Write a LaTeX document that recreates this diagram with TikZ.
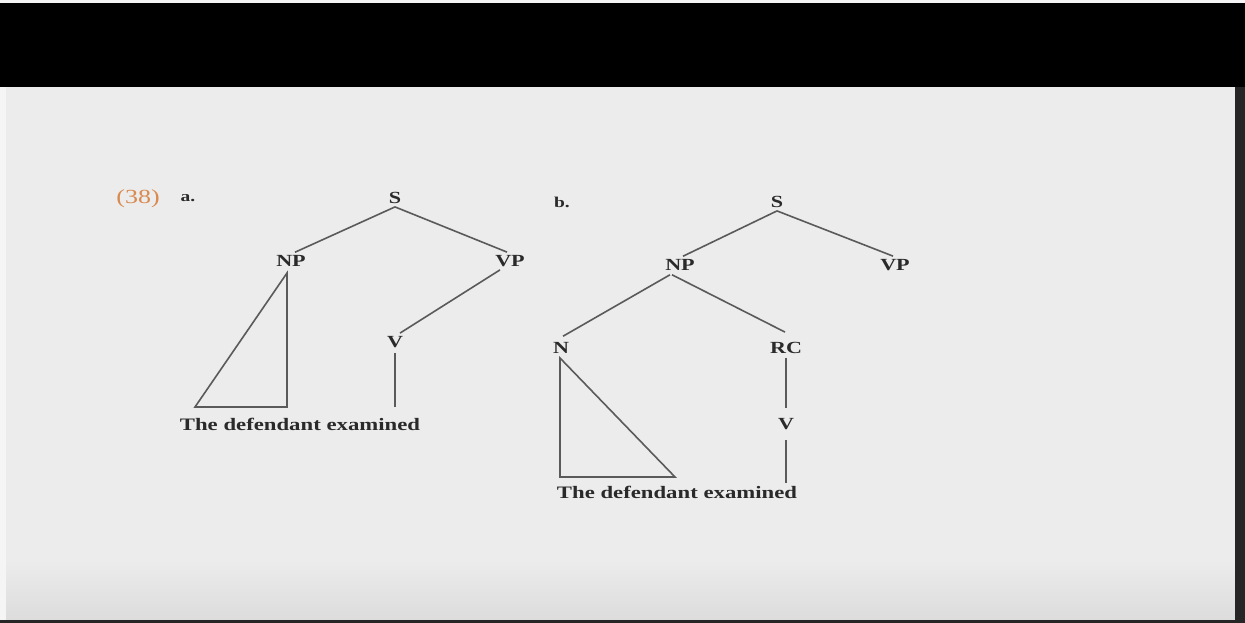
\documentclass[tikz,border=0pt]{standalone}
\usepackage{fontspec}
\setmainfont{Liberation Serif}
\newfontfamily\widefont[FakeStretch=1.3]{Liberation Serif}
\definecolor{bgpanel}{HTML}{ECECEC}
\definecolor{bgshade}{HTML}{DCDCDC}
\definecolor{linegray}{HTML}{5A5A5A}
\definecolor{numorange}{HTML}{D98A50}
\definecolor{textdark}{HTML}{2A2A2A}
\tikzset{
  lab/.style={font=\widefont\bfseries\fontsize{17}{19}\selectfont, text=textdark, inner sep=0pt},
  sent/.style={font=\widefont\bfseries\fontsize{17.5}{19}\selectfont, text=textdark, inner sep=0pt},
  item/.style={font=\widefont\bfseries\fontsize{15}{17}\selectfont, text=textdark, inner sep=0pt},
  branch/.style={draw=linegray, line width=1.6pt},
}
\begin{document}
\begin{tikzpicture}[x=1pt,y=-1pt]
\useasboundingbox (0,0) rectangle (1245,623);
% background
\fill[white!92!gray] (0,0) rectangle (1245,623);
\fill[black] (0,3) rectangle (1245,87);
\fill[bgpanel] (6,87) rectangle (1235,620);
\shade[top color=bgpanel, bottom color=bgshade] (6,560) rectangle (1235,620);
\fill[black!85] (1235,87) rectangle (1245,623);
\fill[black!85] (0,620) rectangle (1245,623);

% labels
\node[font=\widefont\fontsize{20}{22}\selectfont, text=numorange, inner sep=0pt] (num) at (138,199) {(38)};
\node[item] (la) at (188,198) {a.};
\node[item] (lb) at (562,202) {b.};

% tree a
\node[lab] (aS) at (395,198) {S};
\node[lab] (aNP) at (291,261) {NP};
\node[lab] (aVP) at (510,261) {VP};
\node[lab] (aV) at (395,342) {V};
\node[sent] (asent) at (300,424) {The defendant examined};
\coordinate (aTl) at (195,407);
\coordinate (aTr) at (287,407);
\coordinate (aTa) at (287,273);
\coordinate (aVb) at (395,407);

\draw[branch] ([yshift=-3pt]aS.south) -- ([xshift=4pt,yshift=3pt]aNP.north);
\draw[branch] ([yshift=-3pt]aS.south) -- ([xshift=-3pt,yshift=3pt]aVP.north);
\draw[branch] ([xshift=-10pt,yshift=-3pt]aVP.south) -- ([xshift=5pt,yshift=3pt]aV.north);
\draw[branch] ([yshift=-5pt]aV.south) -- (aVb);
\draw[branch, line join=miter] (aTa) -- (aTl) -- (aTr) -- cycle;

% tree b
\node[lab] (bS) at (777,202) {S};
\node[lab] (bNP) at (680,265) {NP};
\node[lab] (bVP) at (895,265) {VP};
\node[lab] (bN) at (561,348) {N};
\node[lab] (bRC) at (786,348) {RC};
\node[lab] (bV) at (786,424) {V};
\node[sent] (bsent) at (677,492) {The defendant examined};
\coordinate (bTa) at (560,358);
\coordinate (bTl) at (560,477);
\coordinate (bTr) at (675,477);
\coordinate (bVb) at (786,483);

\draw[branch] ([yshift=-3pt]bS.south) -- ([xshift=3pt,yshift=3pt]bNP.north);
\draw[branch] ([yshift=-3pt]bS.south) -- ([xshift=-2pt,yshift=3pt]bVP.north);
\draw[branch] ([xshift=-10pt,yshift=-4pt]bNP.south) -- ([xshift=2pt,yshift=6pt]bN.north);
\draw[branch] ([xshift=-8pt,yshift=-4pt]bNP.south) -- ([xshift=-1pt,yshift=10pt]bRC.north);
\draw[branch] ([yshift=-4pt]bRC.south) -- ([yshift=10pt]bV.north);
\draw[branch] ([yshift=-10pt]bV.south) -- (bVb);
\draw[branch, line join=miter] (bTa) -- (bTl) -- (bTr) -- cycle;
\end{tikzpicture}
\end{document}
